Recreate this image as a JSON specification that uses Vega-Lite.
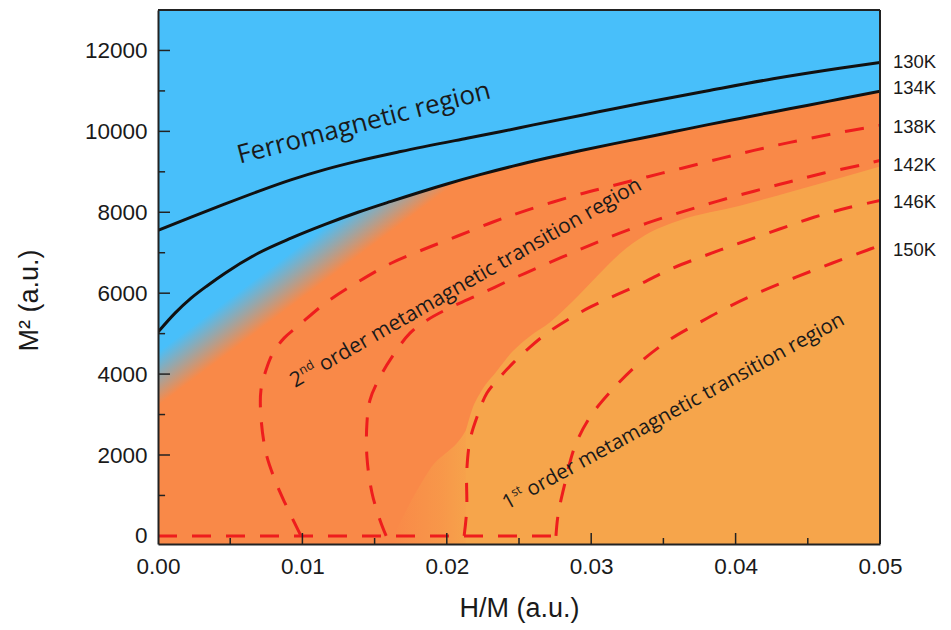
{
  "$schema": "https://vega.github.io/schema/vega-lite/v6.json",
  "width": 722,
  "height": 534,
  "autosize": "none",
  "padding": {"left": 158, "top": 10, "right": 71, "bottom": 86},
  "background": "#ffffff",
  "config": {"view": {"fill": "#48BFFA", "stroke": null}, "font": "Liberation Sans"},
  "datasets": {
    "curves": [
      {"series": "130K", "i": 0, "x": 0, "y": 7555},
      {"series": "130K", "i": 1, "x": 0.0023, "y": 7880},
      {"series": "130K", "i": 2, "x": 0.0046, "y": 8200},
      {"series": "130K", "i": 3, "x": 0.0069, "y": 8510},
      {"series": "130K", "i": 4, "x": 0.0092, "y": 8800},
      {"series": "130K", "i": 5, "x": 0.0116, "y": 9060},
      {"series": "130K", "i": 6, "x": 0.0139, "y": 9270},
      {"series": "130K", "i": 7, "x": 0.0168, "y": 9500},
      {"series": "130K", "i": 8, "x": 0.0214, "y": 9830},
      {"series": "130K", "i": 9, "x": 0.0237, "y": 9990},
      {"series": "130K", "i": 10, "x": 0.026, "y": 10160},
      {"series": "130K", "i": 11, "x": 0.0306, "y": 10490},
      {"series": "130K", "i": 12, "x": 0.0334, "y": 10690},
      {"series": "130K", "i": 13, "x": 0.038, "y": 11000},
      {"series": "130K", "i": 14, "x": 0.0426, "y": 11300},
      {"series": "130K", "i": 15, "x": 0.0472, "y": 11560},
      {"series": "130K", "i": 16, "x": 0.05, "y": 11703},
      {"series": "134K", "i": 0, "x": 0, "y": 5037},
      {"series": "134K", "i": 1, "x": 0.00118, "y": 5506},
      {"series": "134K", "i": 2, "x": 0.00229, "y": 5876},
      {"series": "134K", "i": 3, "x": 0.00346, "y": 6197},
      {"series": "134K", "i": 4, "x": 0.00464, "y": 6494},
      {"series": "134K", "i": 5, "x": 0.00693, "y": 6987},
      {"series": "134K", "i": 6, "x": 0.00921, "y": 7360},
      {"series": "134K", "i": 7, "x": 0.01157, "y": 7700},
      {"series": "134K", "i": 8, "x": 0.01385, "y": 8000},
      {"series": "134K", "i": 9, "x": 0.01614, "y": 8270},
      {"series": "134K", "i": 10, "x": 0.02001, "y": 8700},
      {"series": "134K", "i": 11, "x": 0.0223, "y": 8930},
      {"series": "134K", "i": 12, "x": 0.02458, "y": 9140},
      {"series": "134K", "i": 13, "x": 0.02694, "y": 9340},
      {"series": "134K", "i": 14, "x": 0.02922, "y": 9520},
      {"series": "134K", "i": 15, "x": 0.03151, "y": 9690},
      {"series": "134K", "i": 16, "x": 0.03338, "y": 9825},
      {"series": "134K", "i": 17, "x": 0.03567, "y": 9990},
      {"series": "134K", "i": 18, "x": 0.03802, "y": 10160},
      {"series": "134K", "i": 19, "x": 0.0403, "y": 10320},
      {"series": "134K", "i": 20, "x": 0.04259, "y": 10480},
      {"series": "134K", "i": 21, "x": 0.04494, "y": 10640},
      {"series": "134K", "i": 22, "x": 0.04723, "y": 10800},
      {"series": "134K", "i": 23, "x": 0.05, "y": 10994},
      {"series": "base", "i": 0, "x": 0, "y": 0},
      {"series": "base", "i": 1, "x": 0.02756, "y": 0},
      {"series": "138K", "i": 0, "x": 0.0099, "y": 0},
      {"series": "138K", "i": 1, "x": 0.00879, "y": 815},
      {"series": "138K", "i": 2, "x": 0.0081, "y": 1383},
      {"series": "138K", "i": 3, "x": 0.00748, "y": 2049},
      {"series": "138K", "i": 4, "x": 0.00713, "y": 2938},
      {"series": "138K", "i": 5, "x": 0.00713, "y": 3605},
      {"series": "138K", "i": 6, "x": 0.00748, "y": 4099},
      {"series": "138K", "i": 7, "x": 0.00796, "y": 4518},
      {"series": "138K", "i": 8, "x": 0.00873, "y": 4889},
      {"series": "138K", "i": 9, "x": 0.00977, "y": 5210},
      {"series": "138K", "i": 10, "x": 0.01163, "y": 5765},
      {"series": "138K", "i": 11, "x": 0.01382, "y": 6271},
      {"series": "138K", "i": 12, "x": 0.01614, "y": 6740},
      {"series": "138K", "i": 13, "x": 0.01842, "y": 7086},
      {"series": "138K", "i": 14, "x": 0.02071, "y": 7407},
      {"series": "138K", "i": 15, "x": 0.0232, "y": 7760},
      {"series": "138K", "i": 16, "x": 0.02562, "y": 8060},
      {"series": "138K", "i": 17, "x": 0.02895, "y": 8420},
      {"series": "138K", "i": 18, "x": 0.03151, "y": 8660},
      {"series": "138K", "i": 19, "x": 0.03393, "y": 8880},
      {"series": "138K", "i": 20, "x": 0.03629, "y": 9090},
      {"series": "138K", "i": 21, "x": 0.03885, "y": 9320},
      {"series": "138K", "i": 22, "x": 0.04127, "y": 9530},
      {"series": "138K", "i": 23, "x": 0.04377, "y": 9728},
      {"series": "138K", "i": 24, "x": 0.04675, "y": 9940},
      {"series": "138K", "i": 25, "x": 0.05, "y": 10148},
      {"series": "142K", "i": 0, "x": 0.0158, "y": 0},
      {"series": "142K", "i": 1, "x": 0.01537, "y": 395},
      {"series": "142K", "i": 2, "x": 0.01482, "y": 1062},
      {"series": "142K", "i": 3, "x": 0.01447, "y": 1951},
      {"series": "142K", "i": 4, "x": 0.01447, "y": 2790},
      {"series": "142K", "i": 5, "x": 0.01468, "y": 3358},
      {"series": "142K", "i": 6, "x": 0.01537, "y": 3926},
      {"series": "142K", "i": 7, "x": 0.0162, "y": 4420},
      {"series": "142K", "i": 8, "x": 0.01745, "y": 5012},
      {"series": "142K", "i": 9, "x": 0.01863, "y": 5333},
      {"series": "142K", "i": 10, "x": 0.02022, "y": 5640},
      {"series": "142K", "i": 11, "x": 0.02244, "y": 6000},
      {"series": "142K", "i": 12, "x": 0.02465, "y": 6370},
      {"series": "142K", "i": 13, "x": 0.02687, "y": 6720},
      {"series": "142K", "i": 14, "x": 0.02922, "y": 7080},
      {"series": "142K", "i": 15, "x": 0.03137, "y": 7400},
      {"series": "142K", "i": 16, "x": 0.03386, "y": 7730},
      {"series": "142K", "i": 17, "x": 0.03629, "y": 8010},
      {"series": "142K", "i": 18, "x": 0.03871, "y": 8270},
      {"series": "142K", "i": 19, "x": 0.04127, "y": 8520},
      {"series": "142K", "i": 20, "x": 0.0437, "y": 8750},
      {"series": "142K", "i": 21, "x": 0.04612, "y": 8970},
      {"series": "142K", "i": 22, "x": 0.04896, "y": 9190},
      {"series": "142K", "i": 23, "x": 0.05, "y": 9280},
      {"series": "146K", "i": 0, "x": 0.0212, "y": 0},
      {"series": "146K", "i": 1, "x": 0.02138, "y": 642},
      {"series": "146K", "i": 2, "x": 0.02138, "y": 1580},
      {"series": "146K", "i": 3, "x": 0.02161, "y": 2370},
      {"series": "146K", "i": 4, "x": 0.02209, "y": 2938},
      {"series": "146K", "i": 5, "x": 0.02278, "y": 3531},
      {"series": "146K", "i": 6, "x": 0.02368, "y": 3926},
      {"series": "146K", "i": 7, "x": 0.02458, "y": 4271},
      {"series": "146K", "i": 8, "x": 0.02576, "y": 4666},
      {"series": "146K", "i": 9, "x": 0.02694, "y": 5012},
      {"series": "146K", "i": 10, "x": 0.02832, "y": 5333},
      {"series": "146K", "i": 11, "x": 0.02992, "y": 5654},
      {"series": "146K", "i": 12, "x": 0.03352, "y": 6247},
      {"series": "146K", "i": 13, "x": 0.03546, "y": 6592},
      {"series": "146K", "i": 14, "x": 0.03795, "y": 6938},
      {"series": "146K", "i": 15, "x": 0.04044, "y": 7259},
      {"series": "146K", "i": 16, "x": 0.043, "y": 7580},
      {"series": "146K", "i": 17, "x": 0.04542, "y": 7876},
      {"series": "146K", "i": 18, "x": 0.04792, "y": 8123},
      {"series": "146K", "i": 19, "x": 0.05, "y": 8290},
      {"series": "150K", "i": 0, "x": 0.02756, "y": 0},
      {"series": "150K", "i": 1, "x": 0.0277, "y": 506},
      {"series": "150K", "i": 2, "x": 0.02812, "y": 1210},
      {"series": "150K", "i": 3, "x": 0.02888, "y": 2222},
      {"series": "150K", "i": 4, "x": 0.02992, "y": 2938},
      {"series": "150K", "i": 5, "x": 0.03137, "y": 3580},
      {"series": "150K", "i": 6, "x": 0.03324, "y": 4247},
      {"series": "150K", "i": 7, "x": 0.03539, "y": 4839},
      {"series": "150K", "i": 8, "x": 0.03767, "y": 5308},
      {"series": "150K", "i": 9, "x": 0.03961, "y": 5679},
      {"series": "150K", "i": 10, "x": 0.04183, "y": 6049},
      {"series": "150K", "i": 11, "x": 0.04418, "y": 6395},
      {"series": "150K", "i": 12, "x": 0.04667, "y": 6740},
      {"series": "150K", "i": 13, "x": 0.0491, "y": 7061},
      {"series": "150K", "i": 14, "x": 0.05, "y": 7185}
    ],
    "light": [
      {"x": 0.02133, "y": 2617},
      {"x": 0.02174, "y": 3111},
      {"x": 0.02244, "y": 3605},
      {"x": 0.02341, "y": 4049},
      {"x": 0.02451, "y": 4543},
      {"x": 0.02576, "y": 4938},
      {"x": 0.02715, "y": 5284},
      {"x": 0.02867, "y": 5780},
      {"x": 0.0304, "y": 6420},
      {"x": 0.03199, "y": 6980},
      {"x": 0.03372, "y": 7430},
      {"x": 0.03615, "y": 7800},
      {"x": 0.0403, "y": 8160},
      {"x": 0.04377, "y": 8500},
      {"x": 0.04723, "y": 8850},
      {"x": 0.05, "y": 9130}
    ],
    "patch": [
      {"x": 0.0163, "y": 0},
      {"x": 0.0188, "y": 1630},
      {"x": 0.02133, "y": 2617},
      {"x": 0.0218, "y": 2950}
    ],
    "xmajor": [{"v": 0.01}, {"v": 0.02}, {"v": 0.03}, {"v": 0.04}],
    "xminor": [{"v": 0.005}, {"v": 0.015}, {"v": 0.025}, {"v": 0.035}, {"v": 0.045}],
    "ymajor": [{"v": 2000}, {"v": 4000}, {"v": 6000}, {"v": 8000}, {"v": 10000}, {"v": 12000}],
    "yminor": [{"v": 1000}, {"v": 3000}, {"v": 5000}, {"v": 7000}, {"v": 9000}, {"v": 11000}],
    "frame": [{"edge": "top"}],
    "templabels": [
      {"label": "130K", "y": 11704},
      {"label": "134K", "y": 11062},
      {"label": "138K", "y": 10099},
      {"label": "142K", "y": 9160},
      {"label": "146K", "y": 8247},
      {"label": "150K", "y": 7062}
    ]
  },
  "layer": [
    {
      "data": {"name": "curves"},
      "transform": [{"filter": "datum.series === '134K'"}],
      "mark": {"type": "area", "fill": "#F98948", "interpolate": "monotone", "clip": true},
      "encoding": {
        "x": {"field": "x", "type": "quantitative",
          "scale": {"domain": [0, 0.05], "nice": false, "zero": false},
          "axis": {"orient": "bottom", "values": [0, 0.01, 0.02, 0.03, 0.04, 0.05], "format": ".2f", "ticks": false, "domain": true, "domainColor": "#222222", "domainWidth": 2, "labelFontSize": 22.5, "labelColor": "#1a1a1a", "labelPadding": 11, "labelFlush": false, "labelOverlap": false, "title": "H/M (a.u.)", "titleFontSize": 27, "titleFontWeight": "normal", "titleColor": "#1a1a1a", "titlePadding": 18, "grid": false, "zindex": 2}},
        "y": {"field": "y", "type": "quantitative", "stack": null,
          "scale": {"domain": [-200, 13000], "nice": false, "zero": false},
          "axis": {"orient": "left", "values": [0, 2000, 4000, 6000, 8000, 10000, 12000], "format": "d", "ticks": false, "domain": true, "domainColor": "#222222", "domainWidth": 2, "labelFontSize": 22.5, "labelColor": "#1a1a1a", "labelPadding": 11, "labelOverlap": false, "title": "M² (a.u.)", "titleFontSize": 27, "titleFontWeight": "normal", "titleColor": "#1a1a1a", "titlePadding": 41, "titleY": 290, "grid": false, "zindex": 2}},
        "y2": {"datum": -200}
      }
    },
    {
      "data": {"name": "light"},
      "mark": {"type": "area", "fill": "#F6A54B", "interpolate": "monotone", "clip": true},
      "encoding": {
        "x": {"field": "x", "type": "quantitative"},
        "y": {"field": "y", "type": "quantitative", "stack": null},
        "y2": {"datum": -200}
      }
    },
    {
      "data": {"name": "patch"},
      "mark": {"type": "area", "interpolate": "monotone", "clip": true,
        "fill": {"gradient": "linear", "x1": 0, "y1": 0, "x2": 1, "y2": 0,
          "stops": [
            {"offset": 0, "color": "rgba(246,165,75,0)"},
            {"offset": 0.6, "color": "rgba(246,165,75,0.5)"},
            {"offset": 1, "color": "rgba(246,165,75,1)"}
          ]}},
      "encoding": {
        "x": {"field": "x", "type": "quantitative"},
        "y": {"field": "y", "type": "quantitative", "stack": null},
        "y2": {"datum": -200}
      }
    },
    {
      "data": {"name": "curves"},
      "transform": [{"filter": "datum.series === '134K' && datum.x <= 0.0225"}],
      "mark": {"type": "area", "interpolate": "monotone", "clip": true,
        "fill": {"gradient": "linear", "x1": 0, "y1": 0, "x2": 0.6255, "y2": 0.7803,
          "stops": [
            {"offset": 0, "color": "rgba(72,191,250,1)"},
            {"offset": 0.46, "color": "rgba(72,191,250,1)"},
            {"offset": 0.53, "color": "rgba(72,191,250,0.5)"},
            {"offset": 0.6, "color": "rgba(72,191,250,0)"},
            {"offset": 1, "color": "rgba(72,191,250,0)"}
          ]}},
      "encoding": {
        "x": {"field": "x", "type": "quantitative"},
        "y": {"field": "y", "type": "quantitative", "stack": null},
        "y2": {"datum": 1500}
      }
    },
    {
      "data": {"name": "curves"},
      "transform": [{"filter": "datum.series !== '130K' && datum.series !== '134K'"}],
      "mark": {"type": "line", "color": "#EE1D1D", "strokeWidth": 3, "strokeDash": [19, 15], "interpolate": "catmull-rom", "clip": true},
      "encoding": {
        "x": {"field": "x", "type": "quantitative"},
        "y": {"field": "y", "type": "quantitative"},
        "detail": {"field": "series"},
        "order": {"field": "i", "type": "quantitative"}
      }
    },
    {
      "data": {"name": "curves"},
      "transform": [{"filter": "datum.series === '130K' || datum.series === '134K'"}],
      "mark": {"type": "line", "color": "#111111", "strokeWidth": 3, "interpolate": "monotone", "clip": true},
      "encoding": {
        "x": {"field": "x", "type": "quantitative"},
        "y": {"field": "y", "type": "quantitative"},
        "detail": {"field": "series"}
      }
    },
    {
      "data": {"name": "xmajor"},
      "mark": {"type": "rule", "color": "#222222", "strokeWidth": 1.5},
      "encoding": {"x": {"field": "v", "type": "quantitative"}, "y": {"datum": -200, "type": "quantitative"}, "y2": {"datum": 72}}
    },
    {
      "data": {"name": "xminor"},
      "mark": {"type": "rule", "color": "#222222", "strokeWidth": 1.5},
      "encoding": {"x": {"field": "v", "type": "quantitative"}, "y": {"datum": -200, "type": "quantitative"}, "y2": {"datum": -52}}
    },
    {
      "data": {"name": "ymajor"},
      "mark": {"type": "rule", "color": "#222222", "strokeWidth": 1.5},
      "encoding": {"y": {"field": "v", "type": "quantitative"}, "x": {"datum": 0, "type": "quantitative"}, "x2": {"datum": 0.00083}}
    },
    {
      "data": {"name": "yminor"},
      "mark": {"type": "rule", "color": "#222222", "strokeWidth": 1.5},
      "encoding": {"y": {"field": "v", "type": "quantitative"}, "x": {"datum": 0, "type": "quantitative"}, "x2": {"datum": 0.00049}}
    },
    {
      "data": {"name": "frame"},
      "mark": {"type": "rule", "color": "#222222", "strokeWidth": 2},
      "encoding": {"y": {"datum": 13000, "type": "quantitative"}, "x": {"datum": 0, "type": "quantitative"}, "x2": {"datum": 0.05}}
    },
    {
      "data": {"name": "frame"},
      "mark": {"type": "rule", "color": "#222222", "strokeWidth": 2},
      "encoding": {"x": {"datum": 0.05, "type": "quantitative"}, "y": {"datum": -200, "type": "quantitative"}, "y2": {"datum": 13000}}
    },
    {
      "data": {"values": [{"x": 0.0144, "y": 10012, "t": "Ferromagnetic region"}]},
      "mark": {"type": "text", "font": "Open Sans", "fontSize": 26, "angle": 345.4, "align": "center", "baseline": "alphabetic", "color": "#1a1a1a"},
      "encoding": {"x": {"field": "x", "type": "quantitative"}, "y": {"field": "y", "type": "quantitative"}, "text": {"field": "t"}}
    },
    {
      "data": {"values": [{"x": 0.009487, "y": 3654, "t": "2"}]},
      "mark": {"type": "text", "font": "Open Sans", "fontSize": 21, "angle": 330.2, "align": "left", "baseline": "alphabetic", "color": "#1a1a1a"},
      "encoding": {"x": {"field": "x", "type": "quantitative"}, "y": {"field": "y", "type": "quantitative"}, "text": {"field": "t"}}
    },
    {
      "data": {"values": [{"x": 0.009487, "y": 3654, "t": "nd"}]},
      "mark": {"type": "text", "font": "Open Sans", "fontSize": 12.5, "angle": 330.2, "align": "left", "baseline": "alphabetic", "dx": 12.5, "dy": -8, "color": "#1a1a1a"},
      "encoding": {"x": {"field": "x", "type": "quantitative"}, "y": {"field": "y", "type": "quantitative"}, "text": {"field": "t"}}
    },
    {
      "data": {"values": [{"x": 0.009487, "y": 3654, "t": "order metamagnetic transition region"}]},
      "mark": {"type": "text", "font": "Open Sans", "fontSize": 21, "angle": 330.2, "align": "left", "baseline": "alphabetic", "dx": 33, "color": "#1a1a1a"},
      "encoding": {"x": {"field": "x", "type": "quantitative"}, "y": {"field": "y", "type": "quantitative"}, "text": {"field": "t"}}
    },
    {
      "data": {"values": [{"x": 0.02417, "y": 642, "t": "1"}]},
      "mark": {"type": "text", "font": "Open Sans", "fontSize": 20.5, "angle": 331.2, "align": "left", "baseline": "alphabetic", "color": "#1a1a1a"},
      "encoding": {"x": {"field": "x", "type": "quantitative"}, "y": {"field": "y", "type": "quantitative"}, "text": {"field": "t"}}
    },
    {
      "data": {"values": [{"x": 0.02417, "y": 642, "t": "st"}]},
      "mark": {"type": "text", "font": "Open Sans", "fontSize": 12, "angle": 331.2, "align": "left", "baseline": "alphabetic", "dx": 12.2, "dy": -8, "color": "#1a1a1a"},
      "encoding": {"x": {"field": "x", "type": "quantitative"}, "y": {"field": "y", "type": "quantitative"}, "text": {"field": "t"}}
    },
    {
      "data": {"values": [{"x": 0.02417, "y": 642, "t": "order metamagnetic transition region"}]},
      "mark": {"type": "text", "font": "Open Sans", "fontSize": 20.5, "angle": 331.2, "align": "left", "baseline": "alphabetic", "dx": 27.3, "color": "#1a1a1a"},
      "encoding": {"x": {"field": "x", "type": "quantitative"}, "y": {"field": "y", "type": "quantitative"}, "text": {"field": "t"}}
    },
    {
      "data": {"name": "templabels"},
      "mark": {"type": "text", "font": "Liberation Sans", "fontSize": 18.5, "align": "left", "baseline": "middle", "dx": 13, "color": "#1a1a1a"},
      "encoding": {
        "x": {"datum": 0.05, "type": "quantitative"},
        "y": {"field": "y", "type": "quantitative"},
        "text": {"field": "label"}
      }
    }
  ]
}
